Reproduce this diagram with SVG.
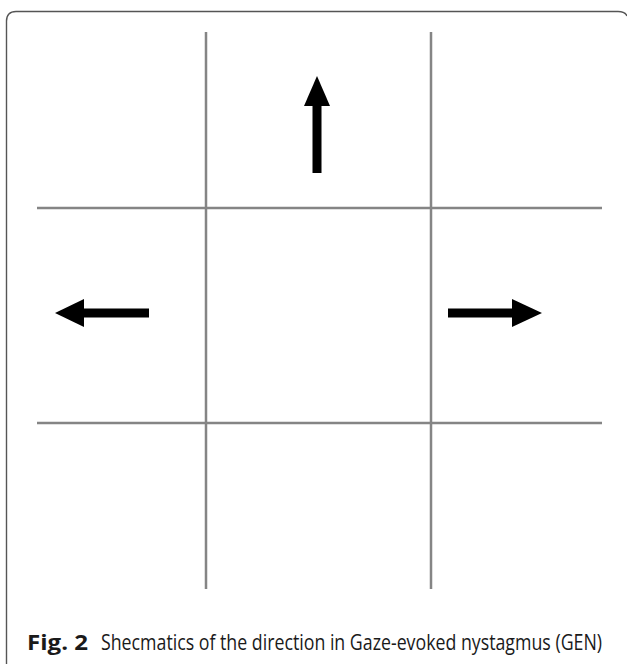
<svg xmlns="http://www.w3.org/2000/svg" width="627" height="664" viewBox="0 0 627 664">
<style>
.grid{stroke:#858585;stroke-width:2.5;fill:none}
.frame{stroke:#555;stroke-width:1.4;fill:none}
.arrow{fill:#000;stroke:none}
.cap{font-family:"Open Sans","Noto Sans",sans-serif;font-size:21px;fill:#1a1a1a}
</style>
<rect width="627" height="664" fill="#fff"/>
<path class="frame" d="M6.5,664 L6.5,21 Q6.5,11.5 16,11.5 L618,11.5 Q625,11.5 627,16"/>
<g id="grid">
<line class="grid" x1="206" y1="32" x2="206" y2="589"/>
<line class="grid" x1="431" y1="32" x2="431" y2="589"/>
<line class="grid" x1="37" y1="208" x2="602" y2="208"/>
<line class="grid" x1="37" y1="423" x2="602" y2="423"/>
</g>
<g id="connectors">
<g id="arrow-up"><rect class="arrow" x="312.5" y="102" width="9" height="71"/><polygon class="arrow" points="317,76 330,106 304,106"/></g>
<g id="arrow-left"><rect class="arrow" x="80" y="308.5" width="69" height="9"/><polygon class="arrow" points="55,313 84,299 84,327"/></g>
<g id="arrow-right"><rect class="arrow" x="448" y="308.5" width="68" height="9"/><polygon class="arrow" points="542,313 512,299 512,327"/></g>
</g>
<text class="cap" y="650"><tspan x="27" font-weight="bold" textLength="61" lengthAdjust="spacingAndGlyphs">Fig. 2</tspan><tspan x="101" textLength="501" lengthAdjust="spacingAndGlyphs">Shecmatics of the direction in Gaze-evoked nystagmus (GEN)</tspan></text>
</svg>
